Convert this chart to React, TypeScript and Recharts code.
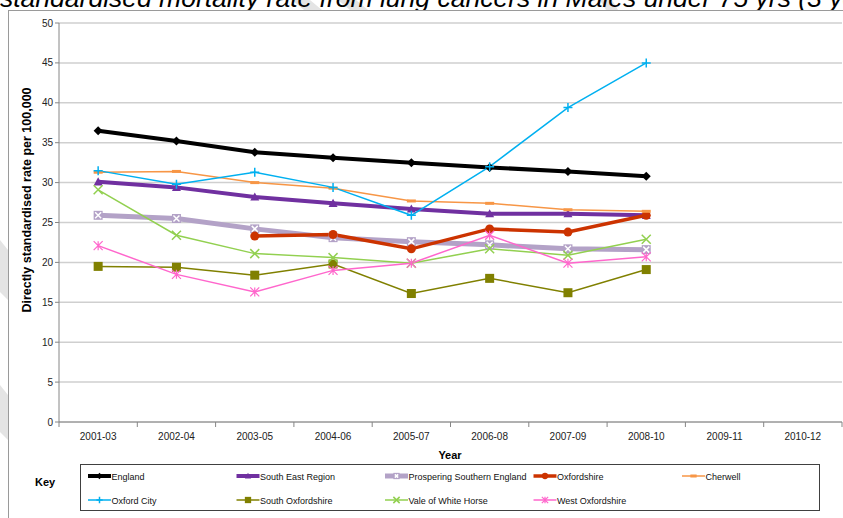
import React from "react";
import { LineChart, Line, XAxis, YAxis, CartesianGrid } from "recharts";

// 3-year pooled periods on the x axis
const periods = [
  "2001-03",
  "2002-04",
  "2003-05",
  "2004-06",
  "2005-07",
  "2006-08",
  "2007-09",
  "2008-10",
  "2009-11",
  "2010-12",
];

const yTicks = [0, 5, 10, 15, 20, 25, 30, 35, 40, 45, 50];

// directly standardised rate per 100,000
const england = [36.5, 35.2, 33.8, 33.1, 32.5, 31.9, 31.4, 30.8, null, null];
const southEastRegion = [30.1, 29.4, 28.2, 27.4, 26.7, 26.1, 26.1, 25.9, null, null];
const prosperingSouthernEngland = [25.9, 25.5, 24.2, 23.1, 22.6, 22.2, 21.7, 21.6, null, null];
const oxfordshire = [null, null, 23.3, 23.5, 21.7, 24.2, 23.8, 25.9, null, null];
const cherwell = [31.3, 31.4, 30.0, 29.3, 27.7, 27.4, 26.6, 26.4, null, null];
const oxfordCity = [31.5, 29.8, 31.3, 29.4, 25.9, 32.0, 39.4, 45.0, null, null];
const southOxfordshire = [19.5, 19.4, 18.4, 19.8, 16.1, 18.0, 16.2, 19.1, null, null];
const valeOfWhiteHorse = [29.1, 23.4, 21.1, 20.6, 19.9, 21.7, 20.9, 22.9, null, null];
const westOxfordshire = [22.1, 18.5, 16.3, 19.0, 19.9, 23.4, 19.9, 20.7, null, null];

type MarkerShape =
  | "diamond"
  | "triangle"
  | "boxX"
  | "circle"
  | "dash"
  | "plus"
  | "square"
  | "cross"
  | "star";

interface Series {
  key: string;
  name: string;
  values: (number | null)[];
  color: string;
  width: number;
  marker: MarkerShape;
}

const series: Series[] = [
  { key: "england", name: "England", values: england, color: "#000000", width: 4, marker: "diamond" },
  { key: "ser", name: "South East Region", values: southEastRegion, color: "#7030A0", width: 4, marker: "triangle" },
  { key: "pse", name: "Prospering Southern England", values: prosperingSouthernEngland, color: "#B3A2C7", width: 5, marker: "boxX" },
  { key: "oxon", name: "Oxfordshire", values: oxfordshire, color: "#CC3300", width: 3.5, marker: "circle" },
  { key: "cherwell", name: "Cherwell", values: cherwell, color: "#F79646", width: 1.5, marker: "dash" },
  { key: "oxcity", name: "Oxford City", values: oxfordCity, color: "#00B0F0", width: 1.5, marker: "plus" },
  { key: "soxon", name: "South Oxfordshire", values: southOxfordshire, color: "#808000", width: 1.5, marker: "square" },
  { key: "vwh", name: "Vale of White Horse", values: valeOfWhiteHorse, color: "#92D050", width: 1.5, marker: "cross" },
  { key: "woxon", name: "West Oxfordshire", values: westOxfordshire, color: "#FF66CC", width: 1.5, marker: "star" },
];

const data = periods.map((period, i) => {
  const row: Record<string, string | number | null> = { period };
  series.forEach((s) => {
    row[s.key] = s.values[i];
  });
  return row;
});

const FONT = "'Liberation Sans', Arial, sans-serif";

function Marker({ shape, cx, cy, color, scale = 1 }: { shape: MarkerShape; cx: number; cy: number; color: string; scale?: number }) {
  const s = 4.5 * scale;
  switch (shape) {
    case "diamond":
      return <polygon points={`${cx},${cy - s} ${cx + s},${cy} ${cx},${cy + s} ${cx - s},${cy}`} fill={color} />;
    case "triangle":
      return <polygon points={`${cx},${cy - s} ${cx + s},${cy + s * 0.8} ${cx - s},${cy + s * 0.8}`} fill={color} />;
    case "boxX":
      return (
        <g>
          <rect x={cx - s} y={cy - s} width={s * 2} height={s * 2} fill={color} />
          <path d={`M${cx - s + 1.5},${cy - s + 1.5}L${cx + s - 1.5},${cy + s - 1.5}M${cx + s - 1.5},${cy - s + 1.5}L${cx - s + 1.5},${cy + s - 1.5}`} stroke="#ffffff" strokeWidth={1.5} />
        </g>
      );
    case "circle":
      return <circle cx={cx} cy={cy} r={s} fill={color} />;
    case "dash":
      return <rect x={cx - s} y={cy - 1.5} width={s * 2} height={3} fill={color} />;
    case "plus":
      return <path d={`M${cx - s},${cy}H${cx + s}M${cx},${cy - s}V${cy + s}`} stroke={color} strokeWidth={1.5} />;
    case "square":
      return <rect x={cx - s} y={cy - s} width={s * 2} height={s * 2} fill={color} />;
    case "cross":
      return <path d={`M${cx - s},${cy - s}L${cx + s},${cy + s}M${cx + s},${cy - s}L${cx - s},${cy + s}`} stroke={color} strokeWidth={1.5} />;
    case "star":
      return (
        <path
          d={`M${cx - s},${cy - s}L${cx + s},${cy + s}M${cx + s},${cy - s}L${cx - s},${cy + s}M${cx},${cy - s}V${cy + s}`}
          stroke={color}
          strokeWidth={1.2}
        />
      );
  }
}

// period label centred in its band, tick marks on the band edges
function PeriodTick(props: any) {
  const { x, y, payload, index, visibleTicksCount } = props;
  const half = payload.offset ?? 0;
  const last = index === (visibleTicksCount ?? periods.length) - 1;
  return (
    <g>
      <text x={x} y={y + 18} textAnchor="middle" fill="#222" fontSize={10} fontFamily={FONT}>
        {payload.value}
      </text>
      <line x1={x - half} y1={y} x2={x - half} y2={y + 5} stroke="#868686" />
      {last && <line x1={x + half} y1={y} x2={x + half} y2={y + 5} stroke="#868686" />}
    </g>
  );
}

function Legend() {
  return (
    <div
      style={{
        position: "absolute",
        left: 80,
        top: 464,
        width: 740,
        height: 47,
        boxSizing: "border-box",
        border: "1px solid #404040",
        background: "#fff",
      }}
    >
      <svg width={738} height={45} style={{ position: "absolute", left: 0, top: 0 }}>
        {series.map((s, i) => {
          const col = i % 5;
          const row = Math.floor(i / 5);
          const x0 = 7 + col * 148.5;
          const cy = 11 + row * 24;
          return (
            <g key={s.key}>
              <line x1={x0} y1={cy} x2={x0 + 23} y2={cy} stroke={s.color} strokeWidth={s.width} />
              <Marker shape={s.marker} cx={x0 + 11.5} cy={cy} color={s.color} scale={0.7} />
              <text x={x0 + 23.5} y={cy + 3.5} fontSize={9} fontFamily={FONT} fill="#111">
                {s.name}
              </text>
            </g>
          );
        })}
      </svg>
    </div>
  );
}

export default function App() {
  return (
    <div style={{ position: "absolute", left: 0, top: 0, width: 843, height: 518, overflow: "hidden", background: "#fff" }}>
      <svg width={843} height={518} style={{ position: "absolute", left: 0, top: 0 }}>
        {/* faint watermark edges showing round the chart frame */}
        <polygon points="0,240 8,250 8,300 0,292" fill="#e4e4e4" />
        <polygon points="0,385 8,395 8,440 0,432" fill="#e4e4e4" />
        <polygon points="292,0 310,0 322,10 304,10" fill="#e4e4e4" />
        <polygon points="338,0 356,0 368,10 350,10" fill="#e4e4e4" />
        <polygon points="600,0 612,0 618,10 606,10" fill="#e4e4e4" />
        <text x={0} y={7} fontSize={26.5} fontStyle="italic" fontFamily={FONT} fill="#000">
          standardised mortality rate from lung cancers in Males under 75 yrs (3 year pooled)
        </text>
        <rect x={8.5} y={10.5} width={860} height={520} fill="#fff" stroke="#9a9a9a" />
        <text
          transform="translate(31,200) rotate(-90)"
          textAnchor="middle"
          fontSize={12.5}
          fontWeight="bold"
          fontFamily={FONT}
          fill="#000"
        >
          Directly standardised rate per 100,000
        </text>
        <text x={450} y={459} textAnchor="middle" fontSize={11} fontWeight="bold" fontFamily={FONT} fill="#000">
          Year
        </text>
        <text x={35} y={486} fontSize={11} fontWeight="bold" fontFamily={FONT} fill="#000">
          Key
        </text>
      </svg>
      <div style={{ position: "absolute", left: 0, top: 0 }}>
        <LineChart width={843} height={518} data={data} margin={{ top: 23, right: 1, left: 0, bottom: 66 }}>
          <CartesianGrid horizontal vertical={false} stroke="#cfcfcf" strokeWidth={1.5} />
          <XAxis
            dataKey="period"
            scale="band"
            height={30}
            axisLine={{ stroke: "#868686" }}
            tickLine={false}
            tickSize={0}
            tickMargin={0}
            interval={0}
            tick={<PeriodTick />}
          />
          <YAxis
            width={59}
            domain={[0, 50]}
            ticks={yTicks}
            interval={0}
            axisLine={{ stroke: "#868686" }}
            tickLine={{ stroke: "#868686" }}
            tickSize={4}
            tick={{ fill: "#222", fontSize: 10, fontFamily: FONT }}
          />
          {series.map((s) => (
            <Line
              key={s.key}
              type="linear"
              dataKey={s.key}
              name={s.name}
              stroke={s.color}
              strokeWidth={s.width}
              isAnimationActive={false}
              activeDot={false}
              dot={(p: any) =>
                p.cy == null || p.value == null ? (
                  <g key={`${s.key}-${p.index}`} />
                ) : (
                  <g key={`${s.key}-${p.index}`}>
                    <Marker shape={s.marker} cx={p.cx} cy={p.cy} color={s.color} />
                  </g>
                )
              }
            />
          ))}
        </LineChart>
      </div>
      <Legend />
    </div>
  );
}
